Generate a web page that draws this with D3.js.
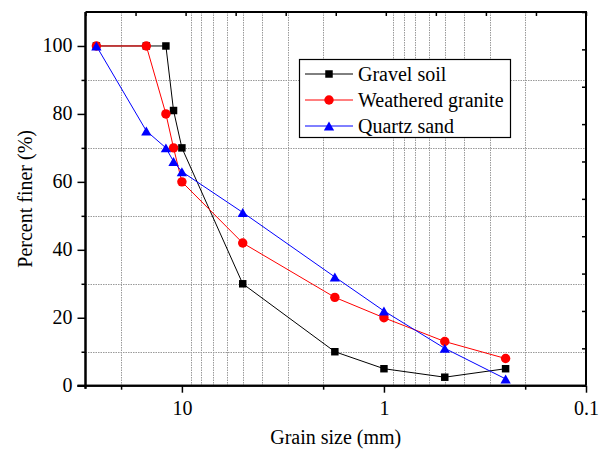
<!DOCTYPE html>
<html>
<head>
<meta charset="utf-8">
<script src="https://cdn.jsdelivr.net/npm/d3@7"></script>
<style>
  html, body { margin: 0; padding: 0; background: #fff; }
  svg { display: block; }
  text { font-family: "Liberation Serif", "Times New Roman", serif; fill: #000; }
</style>
</head>
<body>
<svg id="chart" width="605" height="452"></svg>
<script>
// ---- data ----
const grainSizes = [26.5, 15, 12, 11, 10, 5, 1.75, 1, 0.5, 0.25];
const gravelSoil = [100, 100, 100, 81, 70, 30, 10, 5, 2.5, 5];
const weatheredGranite = [100, 100, 80, 70, 60, 42, 26, 20, 13, 8];
const quartzSand = [100, 75, 70, 66, 63, 51, 32, 22, 11, 2];
const seriesNames = ["Gravel soil", "Weathered granite", "Quartz sand"];
const xMajorTicks = [10, 1, 0.1];
const xMinorTicks = [20, 2, 0.2];
const xTickLabels = ["10", "1", "0.1"];
const yMajorTicks = [0, 20, 40, 60, 80, 100];
const yMinorTicks = [10, 30, 50, 70, 90];
const yTickLabels = ["0", "20", "40", "60", "80", "100"];
const xGridDecades = [10, 1, 0.1];
const xGridMultipliers = [2, 3, 4, 5, 6, 7, 8, 9];
const yGridValues = [10, 30, 50, 70, 90];
const xTitle = "Grain size (mm)";
const yTitle = "Percent finer (%)";

// ---- layout ----
const L = 85.5, R = 586, T = 12, B = 385.7;
const svg = d3.select("#chart");
const x = d3.scaleLog().domain([30, 0.1]).range([L, R]);
const y = d3.scaleLinear().domain([0, 110]).range([B, T]);

const series = [
  { name: seriesNames[0], values: gravelSoil, color: "#000000", symbol: d3.symbolSquare, size: 56, dy: 0 },
  { name: seriesNames[1], values: weatheredGranite, color: "#ff0000", symbol: d3.symbolCircle, size: 70, dy: 0 },
  { name: seriesNames[2], values: quartzSand, color: "#0000ff", symbol: d3.symbolTriangle, size: 46, dy: 1.5 }
];

// ---- grid ----
const xGrid = [];
xGridDecades.forEach(d => xGridMultipliers.forEach(m => {
  const v = +(d * m).toPrecision(6);
  if (v < 30 && v > 0.1) xGrid.push(v);
}));
const grid = svg.append("g").attr("stroke", "#9a9a9a").attr("stroke-width", 1).attr("stroke-dasharray", "1.5,1");
grid.selectAll("line.vx").data(xGrid).enter().append("line")
  .attr("x1", d => Math.round(x(d)) + 0.5).attr("x2", d => Math.round(x(d)) + 0.5)
  .attr("y1", T).attr("y2", B);
grid.selectAll("line.hy").data(yGridValues).enter().append("line")
  .attr("x1", L).attr("x2", R)
  .attr("y1", d => Math.round(y(d)) + 0.5).attr("y2", d => Math.round(y(d)) + 0.5);

// ---- axes ----
const axisW = 2;
// bottom
const gx = svg.append("g").attr("transform", `translate(0,${B})`)
  .call(d3.axisBottom(x).tickValues(xMajorTicks).tickSize(7).tickFormat((d, i) => xTickLabels[i]));
gx.append("g").call(d3.axisBottom(x).tickValues(xMinorTicks).tickSize(4).tickFormat(""));
// left
const gy = svg.append("g").attr("transform", `translate(${L},0)`)
  .call(d3.axisLeft(y).tickValues(yMajorTicks).tickSize(8).tickFormat((d, i) => yTickLabels[i]));
gy.append("g").call(d3.axisLeft(y).tickValues(yMinorTicks).tickSize(4).tickFormat(""));
// top (evenly spaced inward ticks)
const xTop = d3.scaleLinear().domain([0, 10]).range([L, R]);
const gt = svg.append("g").attr("transform", `translate(0,${T})`)
  .call(d3.axisTop(xTop).ticks(10).tickSize(-4).tickFormat(""));
// right (evenly spaced inward ticks)
const yRight = d3.scaleLinear().domain([0, 10]).range([B, T]);
const gr = svg.append("g").attr("transform", `translate(${R},0)`)
  .call(d3.axisRight(yRight).ticks(10).tickSize(-4).tickFormat(""));

[gx, gy, gt, gr].forEach(g => {
  g.selectAll(".domain").attr("stroke", "#000").attr("stroke-width", axisW);
  g.selectAll("line").attr("stroke", "#000").attr("stroke-width", 1.5);
  g.selectAll("text").style("font-family", '"Liberation Serif", serif').style("font-size", "20px").attr("fill", "#000");
});
gx.selectAll(".domain").attr("d", `M${L - 8},0H${R}`);
gy.selectAll(".domain").attr("d", `M0,${T}V${B + 3}`);
gt.selectAll(".domain").attr("d", `M${L},0H${R}`);
gr.selectAll(".domain").attr("d", `M0,${T - 1}V${B}`);
gx.selectAll(".tick text").attr("y", 0).attr("dy", 0).attr("transform", "translate(0,29)");
gy.selectAll(".tick text").attr("x", -13).attr("dy", "0.27em");

// ---- series ----
const line = d3.line().x(d => x(d[0])).y(d => y(d[1]));
series.forEach(s => {
  const pts = grainSizes.map((g, i) => [g, s.values[i]]);
  svg.append("path").datum(pts).attr("d", line)
    .attr("fill", "none").attr("stroke", s.color).attr("stroke-width", 1);
  svg.append("g").selectAll("path").data(pts).enter().append("path")
    .attr("d", d3.symbol().type(s.symbol).size(s.size))
    .attr("transform", d => `translate(${x(d[0])},${y(d[1]) + s.dy})`)
    .attr("fill", s.color);
});

// ---- titles ----
svg.append("text").attr("x", (L + R) / 2).attr("y", 444).attr("text-anchor", "middle")
  .style("font-size", "20px").text(xTitle);
svg.append("text").attr("transform", `translate(32,${(T + B) / 2}) rotate(-90)`).attr("text-anchor", "middle")
  .style("font-size", "20px").text(yTitle);

// ---- legend ----
const lg = svg.append("g");
lg.append("rect").attr("x", 299.5).attr("y", 59.5).attr("width", 211).attr("height", 78)
  .attr("fill", "#fff").attr("stroke", "#000").attr("stroke-width", 1.2);
series.forEach((s, i) => {
  const cy = 74 + i * 26;
  lg.append("line").attr("x1", 305).attr("x2", 353).attr("y1", cy).attr("y2", cy)
    .attr("stroke", s.color).attr("stroke-width", 1);
  lg.append("path").attr("d", d3.symbol().type(s.symbol).size(s.size))
    .attr("transform", `translate(329,${cy + s.dy})`).attr("fill", s.color);
  lg.append("text").attr("x", 358).attr("y", cy + 7).style("font-size", "20px").text(s.name);
});
</script>
</body>
</html>
